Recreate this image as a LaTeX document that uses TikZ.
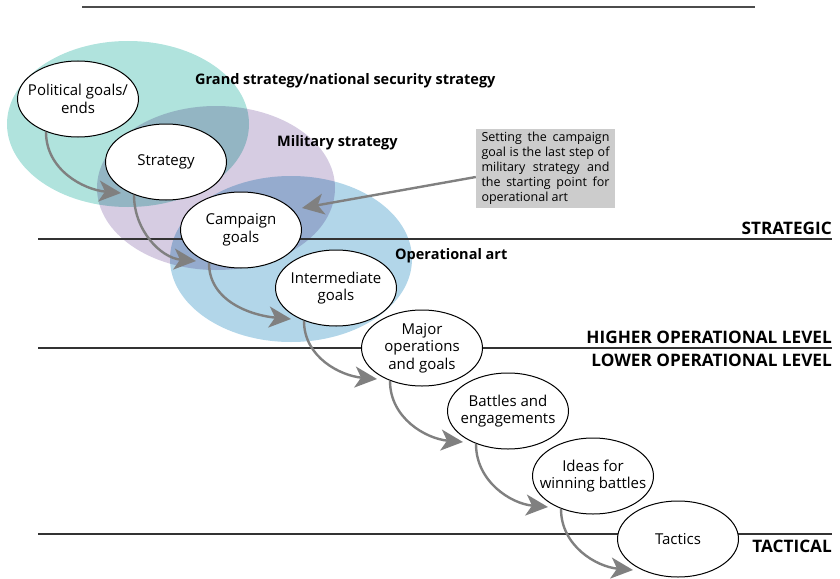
\documentclass[tikz,border=0pt]{standalone}
\usepackage{fontspec}
\setmainfont{Open Sans}
\usetikzlibrary{arrows.meta,shapes.geometric}

\definecolor{grandteal}{RGB}{176,227,221}
\definecolor{milpurple}{RGB}{214,204,226}
\definecolor{opblue}{RGB}{178,214,233}
\definecolor{flowgray}{RGB}{128,128,128}
\definecolor{notegray}{RGB}{204,204,204}

\tikzset{
  stage/.style={ellipse, draw=black, line width=1pt, fill=white,
    minimum width=121pt, minimum height=76pt, inner xsep=-25pt, inner ysep=-15pt,
    align=center, font=\fontsize{15}{17.5}\selectfont},
  flow/.style={draw=flowgray, line width=2.4pt,
    -{Stealth[length=22pt,width=21pt,inset=6pt]}},
  arealabel/.style={anchor=base west, inner sep=0pt, font=\bfseries\fontsize{14.5}{17}\selectfont},
  levellabel/.style={anchor=east, inner sep=0pt, font=\bfseries\fontsize{17.2}{20}\selectfont},
  divider/.style={draw=black!80, line width=1.3pt}
}
% start and end of the arrow between two steps
\newcommand{\stepflow}[2]{%
  \draw[flow] ([shift={(-32,33)}]#1.center) to[out=-90,in=175] ([shift={(-45,31)}]#2.center);}

\begin{document}
\begin{tikzpicture}[x=1pt,y=-1pt]
  \useasboundingbox (0,0) rectangle (840,578);

  % Strategy areas
  \begin{scope}[blend group=multiply]
    \fill[grandteal] (128,124) ellipse [x radius=121pt, y radius=83pt];
    \fill[milpurple] (216,188) ellipse [x radius=119pt, y radius=82pt];
    \fill[opblue] (291,259) ellipse [x radius=121pt, y radius=83pt];
  \end{scope}

  % Level lines
  \draw[draw=black!70, line width=2pt] (82,7) -- (755,7);
  \draw[divider] (38,239) -- (832,239);
  \draw[divider] (38,348) -- (832,348);
  \draw[divider] (38,534) -- (832,534);

  % Steps
  \node[stage] (pol) at (78,99) {Political goals/\\ends};
  \node[stage] (str) at (166,162) {Strategy};
  \node[stage] (camp) at (241,230) {Campaign\\goals};
  \node[stage] (inter) at (336,288) {Intermediate\\goals};
  \node[stage] (major) at (422,348) {Major\\operations\\and goals};
  \node[stage] (battle) at (508,411) {Battles and\\engagements};
  \node[stage] (ideas) at (593,476) {Ideas for\\winning battles};
  \node[stage] (tactics) at (678,539) {Tactics};

  % Arrows between steps
  \stepflow{pol}{str}
  \stepflow{str}{camp}
  \stepflow{camp}{inter}
  \stepflow{inter}{major}
  \stepflow{major}{battle}
  \stepflow{battle}{ideas}
  \stepflow{ideas}{tactics}

  % Area labels
  \node[arealabel] (grandlbl) at (195,84.5) {Grand strategy/national security strategy};
  \node[arealabel] (millbl) at (277,146.5) {Military strategy};
  \node[arealabel] (oplbl) at (395,259.5) {Operational art};

  % Level labels
  \node[levellabel] (strategic) at (832,228) {STRATEGIC};
  \node[levellabel] (higher) at (832,337) {HIGHER OPERATIONAL LEVEL};
  \node[levellabel] (lower) at (832,360) {LOWER OPERATIONAL LEVEL};
  \node[levellabel] (tactical) at (832,546) {TACTICAL};

  % Note
  \node[fill=notegray, text width=128pt, inner xsep=5.5pt, inner ysep=3pt,
    align=justify, font=\fontsize{12.5}{15}\selectfont] (note) at (545.5,168.5)
    {Setting the campaign\linebreak goal is the last step of\linebreak
     military strategy and\linebreak the starting point for\linebreak operational art};
  \draw[flow] ([yshift=-8.5pt]note.west) -- ([shift={(61,-22)}]camp.center);
\end{tikzpicture}
\end{document}
